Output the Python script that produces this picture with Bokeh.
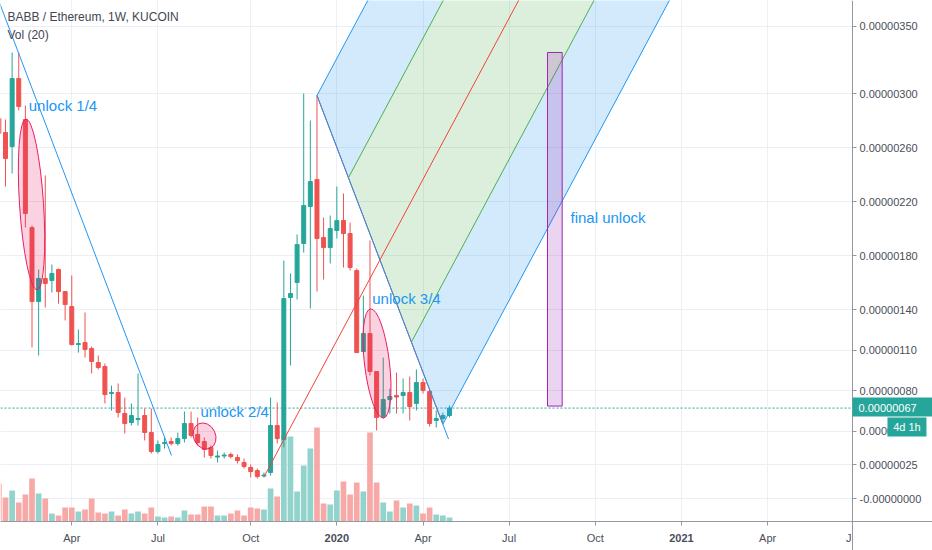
import pandas as pd
from bokeh.plotting import figure
from bokeh.models import Range1d, FixedTicker, Label, LinearAxis, Grid, BoxAnnotation
from bokeh.embed import file_html
from bokeh.resources import INLINE

# ---------------- data (prices in units of 1e-8 ETH) ----------------
first_week = "2019-01-14"
open_ = [281.5, 271.1, 260.7, 311.1, 280.7, 200.7, 145.9, 163.0, 161.5, 169.6, 153.3, 142.2, 114.1, 115.6,
         111.1, 100.7, 97.8, 77.8, 78.5, 63.0, 56.3, 58.5, 61.5, 48.9, 34.8, 40.7, 42.2, 40.7, 44.4, 55.6,
         47.4, 42.2, 37.8, 30.7, 31.5, 32.6, 30.4, 26.7, 23.0, 20.7, 16.7, 19.3, 54.1, 43.7, 148.9, 160.0,
         188.9, 216.3, 236.3, 193.3, 185.9, 198.5, 205.9, 196.3, 168.9, 108.9, 122.2, 94.1, 60.7, 73.3,
         76.3, 76.3, 78.5, 70.4, 85.9, 79.3, 57.8, 59.3, 61.5]
high = [287.4, 280.7, 330.4, 330.4, 291.1, 202.2, 169.6, 239.3, 173.3, 170.4, 153.3, 165.2, 125.2, 137.8,
        112.6, 105.9, 100.0, 83.7, 85.2, 74.8, 70.4, 92.6, 66.7, 66.7, 43.0, 45.2, 45.2, 48.9, 64.4, 64.4,
        60.0, 45.2, 39.3, 35.6, 34.1, 34.1, 32.6, 29.6, 25.2, 22.2, 19.3, 74.8, 71.1, 176.3, 166.7, 195.6,
        300.0, 280.0, 298.5, 208.1, 209.6, 231.1, 225.9, 204.4, 170.4, 150.4, 191.1, 94.1, 104.4, 81.5,
        93.3, 88.9, 90.4, 95.6, 88.9, 80.7, 65.2, 63.7, 68.9]
low = [265.2, 231.1, 240.7, 287.4, 200.7, 111.9, 105.9, 141.5, 152.6, 144.4, 131.9, 113.3, 108.1, 104.4,
       92.6, 95.6, 70.4, 65.2, 60.0, 48.1, 54.1, 54.1, 43.0, 33.3, 33.3, 37.0, 39.3, 39.3, 41.5, 45.2,
       39.3, 30.4, 29.6, 26.7, 29.6, 29.6, 25.9, 22.2, 15.6, 14.8, 15.6, 17.0, 40.7, 37.8, 98.5, 147.4,
       182.2, 140.7, 153.3, 162.2, 174.1, 192.6, 171.1, 168.9, 108.1, 108.9, 91.1, 50.4, 59.3, 63.0,
       63.0, 63.0, 57.8, 65.2, 77.8, 53.3, 52.6, 56.3, 60.0]
close = [270.4, 251.9, 311.1, 290.4, 211.1, 145.9, 163.0, 159.3, 166.7, 153.3, 143.7, 114.1, 114.8, 110.4,
         101.5, 97.0, 77.0, 78.5, 63.7, 55.6, 61.5, 59.3, 48.9, 34.8, 40.0, 41.5, 40.7, 44.4, 55.6, 46.7,
         41.5, 36.3, 31.9, 31.5, 32.2, 31.1, 28.1, 23.7, 20.0, 16.3, 17.4, 54.1, 44.4, 148.1, 151.9, 188.1,
         217.0, 234.8, 192.6, 185.9, 200.0, 205.9, 196.3, 171.1, 108.1, 122.2, 94.1, 60.0, 73.3, 75.6,
         75.2, 78.5, 68.1, 85.9, 80.0, 55.6, 59.3, 61.5, 67.0]
volume = [38, 24, 31, 19, 27, 43, 28, 23, 8, 6, 14, 14, 10, 12, 23, 9, 8, 10, 6, 12, 8, 10, 8, 14, 5, 4,
          5, 4, 11, 7, 7, 15, 15, 6, 6, 8, 11, 6, 14, 13, 12, 33, 25, 86, 85, 30, 56, 73, 94, 18, 17, 31,
          40, 27, 39, 30, 89, 39, 19, 10, 21, 14, 18, 16, 8, 14, 7, 6, 4]

price_ticks = [0, 25, 50, 80, 110, 140, 180, 220, 260, 300, 350]
price_tick_labels = ["-0.00000000", "0.00000025", "0.00000050", "0.00000080", "0.00000110",
                     "0.00000140", "0.00000180", "0.00000220", "0.00000260", "0.00000300", "0.00000350"]
date_ticks = ["2019-04-01", "2019-07-01", "2019-10-07", "2020-01-06", "2020-04-06",
              "2020-07-06", "2020-10-05", "2021-01-04", "2021-04-05"]
date_tick_labels = ["Apr", "Jul", "Oct", "2020", "Apr", "Jul", "Oct", "2021", "Apr"]
last_price = 67.0
last_price_label = "0.00000067"
countdown_label = "4d 1h"

# drawings anchored to (date, price)
trend1_dates = ["2019-01-14", "2019-07-15 08:00"]
trend1_prices = [368.4, 31.9]
pitchfork_dates = ["2019-10-21", "2019-12-16", "2020-04-27"]
pitchfork_prices = [16.0, 298.5, 55.0]
trend2_dates = ["2019-12-16", "2020-05-03"]
trend2_prices = [298.5, 44.0]
ellipse_dates = ["2019-02-17 12:00", "2019-08-19 05:00", "2020-02-17 10:00"]
ellipse_prices = [217.8, 46.3, 100.0]
rect_dates = ["2020-08-15 12:00", "2020-08-31"]
rect_prices = [68.5, 330.4]
note_texts = ["unlock 1/4", "unlock 2/4", "unlock 3/4", "final unlock"]
note_dates = ["2019-02-14 14:00", "2019-08-15", "2020-02-12 10:00", "2020-09-08 19:00"]
note_prices = [291.0, 64.7, 147.9, 208.1]
title_text = "BABB / Ethereum, 1W, KUCOIN"
vol_text = "Vol (20)"


def ms(s):
    return int(pd.Timestamp(s).value // 10**6)


WEEK = 7 * 24 * 3600 * 1000
dates = pd.date_range(first_week, periods=len(open_), freq="7D")
xs = [ms(d) for d in dates]

UP, DOWN = "#26a69a", "#ef5350"
UP_V, DOWN_V = "#92d3cc", "#f7a9a8"
up = [c >= o for o, c in zip(open_, close)]
cols = [UP if u else DOWN for u in up]
vcols = [UP_V if u else DOWN_V for u in up]
body_top = [max(o, c) for o, c in zip(open_, close)]
body_bot = [min(o, c) for o, c in zip(open_, close)]

# view: the frame covers the whole canvas, axes sit at fixed places inside it
x_start, x_end = ms("2019-01-15 17:20"), ms("2021-09-26 04:00")
price_axis_x = ms("2021-07-03 16:00")
time_axis_y = -17.04
p = figure(width=932, height=550, x_range=Range1d(x_start, x_end), y_range=Range1d(-38.5, 368.9),
           x_axis_type=None, y_axis_type=None, output_backend="svg", toolbar_location=None,
           min_border_left=0, min_border_top=0, min_border_right=0, min_border_bottom=0,
           background_fill_color="white", border_fill_color="white")
p.outline_line_color = None
p.extra_y_ranges = {"vol": Range1d(-29, 521)}

tick_ms = [ms(d) for d in date_ticks]
xticker = FixedTicker(ticks=tick_ms)
yticker = FixedTicker(ticks=price_ticks)
p.add_layout(Grid(dimension=0, ticker=xticker, grid_line_color="#eceff4"))
p.add_layout(Grid(dimension=1, ticker=yticker, grid_line_color="#eceff4"))

xaxis = LinearAxis(ticker=xticker, fixed_location=time_axis_y,
                   major_label_overrides={t: ("" if l.isdigit() else l) for t, l in zip(tick_ms, date_tick_labels)})
yaxis = LinearAxis(ticker=yticker, fixed_location=price_axis_x,
                   major_label_overrides={t: l for t, l in zip(price_ticks, price_tick_labels)})
for ax in (xaxis, yaxis):
    ax.axis_line_color = "#9598a1"
    ax.major_tick_line_color = "#9598a1"
    ax.major_tick_out = 4
    ax.major_tick_in = 0
    ax.minor_tick_line_color = None
    ax.major_label_text_font = "Liberation Sans"
    ax.major_label_text_font_size = "11px"
    ax.major_label_text_color = "#4a4e59"
xaxis.major_label_standoff = 6
yaxis.major_label_standoff = 3
p.add_layout(xaxis, "below")
p.add_layout(yaxis, "right")

# white scale areas (hide grid lines behind the scales)
p.add_layout(BoxAnnotation(left=price_axis_x, fill_color="white", fill_alpha=1.0, line_color=None, level="glyph"))
p.add_layout(BoxAnnotation(top=time_axis_y, fill_color="white", fill_alpha=1.0, line_color=None, level="glyph"))

# volume
p.vbar(x=xs, top=volume, bottom=0, width=0.86 * WEEK, fill_color=vcols, line_color=None, y_range_name="vol")

# last price line
p.line([x_start, price_axis_x], [last_price, last_price], line_color=UP, line_dash="2 2", line_width=1)

# candles
p.segment(x0=xs, y0=low, x1=xs, y1=high, line_color=cols, line_width=1)
p.vbar(x=xs, width=0.6 * WEEK, top=body_top, bottom=body_bot, fill_color=cols, line_color=cols, line_width=1)

# pitchfork
A = (ms(pitchfork_dates[0]), pitchfork_prices[0])
B = (ms(pitchfork_dates[1]), pitchfork_prices[1])
C = (ms(pitchfork_dates[2]), pitchfork_prices[2])
M = ((B[0] + C[0]) / 2, (B[1] + C[1]) / 2)
Q1 = ((B[0] + M[0]) / 2, (B[1] + M[1]) / 2)
Q3 = ((M[0] + C[0]) / 2, (M[1] + C[1]) / 2)
d = (M[0] - A[0], M[1] - A[1])
K = 12


def ext(P):
    return (P[0] + K * d[0], P[1] + K * d[1])


BLUE, GREEN, RED = "#2196f3", "#4caf50", "#f44336"
for P0, P1, col in [(B, Q1, BLUE), (Q1, Q3, GREEN), (Q3, C, BLUE)]:
    e0, e1 = ext(P0), ext(P1)
    p.patch([P0[0], P1[0], e1[0], e0[0]], [P0[1], P1[1], e1[1], e0[1]],
            fill_color=col, fill_alpha=0.2, line_color=None)
for P, col in [(B, BLUE), (Q1, GREEN), (Q3, GREEN), (C, BLUE)]:
    e = ext(P)
    p.line([P[0], e[0]], [P[1], e[1]], line_color=col, line_width=1)
em = ext(M)
p.line([A[0], em[0]], [A[1], em[1]], line_color=RED, line_width=1)
p.line([B[0], C[0]], [B[1], C[1]], line_color=RED, line_width=1)

# trend lines
p.line([ms(t) for t in trend1_dates], trend1_prices, line_color=BLUE, line_width=1)
p.line([ms(t) for t in trend2_dates], trend2_prices, line_color=BLUE, line_width=1)

# ellipses
p.ellipse(x=[ms(t) for t in ellipse_dates], y=ellipse_prices, width=[24, 22, 25], height=[171, 27, 110],
          angle=[0.065, 0.45, 0.118], width_units="screen", height_units="screen",
          fill_color="#e91e63", fill_alpha=0.2, line_color="#e91e63", line_width=1)

# rectangle
p.quad(left=ms(rect_dates[0]), right=ms(rect_dates[1]), bottom=rect_prices[0], top=rect_prices[1],
       fill_color="#9c27b0", fill_alpha=0.2, line_color="#9c27b0", line_width=1)

# notes
for t, dd, pr in zip(note_texts, note_dates, note_prices):
    p.add_layout(Label(x=ms(dd), y=pr, text=t, text_font="Liberation Sans", text_font_size="15px",
                       text_color=BLUE, text_baseline="middle", text_align="left"))

# legend texts
p.add_layout(Label(x=ms("2019-01-23"), y=356.5, text=title_text, text_font="Liberation Sans",
                   text_font_size="12px", text_color="#434651", text_baseline="middle"))
p.add_layout(Label(x=ms("2019-01-23"), y=343.7, text=vol_text, text_font="Liberation Sans",
                   text_font_size="12px", text_color="#434651", text_baseline="middle"))

# bold year labels on the time scale
for t, l in zip(tick_ms, date_tick_labels):
    if l.isdigit():
        p.add_layout(Label(x=t, y=-28.9, text=l, text_font="Liberation Sans", text_font_size="11px",
                           text_font_style="bold", text_color="#4a4e59", text_align="center",
                           text_baseline="middle", level="overlay"))
p.add_layout(Label(x=price_axis_x, x_offset=-1, y=-28.9, text="J", text_font="Liberation Sans",
                   text_font_size="11px", text_color="#4a4e59", text_align="right",
                   text_baseline="middle", level="overlay"))

# price scale boxes
p.add_layout(BoxAnnotation(left=price_axis_x, top=74.8, bottom=60.7, fill_color=UP, fill_alpha=1.0,
                           line_color=None, level="overlay"))
p.add_layout(Label(x=price_axis_x, x_offset=6, y=last_price, text=last_price_label, text_font="Liberation Sans",
                   text_font_size="11px", text_color="white", text_baseline="middle", level="overlay"))
p.add_layout(BoxAnnotation(left=ms("2021-08-09 14:00"), right=ms("2021-09-19 19:00"), top=60.0, bottom=45.9,
                           fill_color=UP, fill_alpha=1.0, line_color=None, level="overlay"))
p.add_layout(Label(x=ms("2021-08-30 04:00"), y=53.0, text=countdown_label, text_font="Liberation Sans",
                   text_font_size="11px", text_color="white", text_align="center", text_baseline="middle",
                   level="overlay"))

open("out.html", "w").write(file_html(p, INLINE))
